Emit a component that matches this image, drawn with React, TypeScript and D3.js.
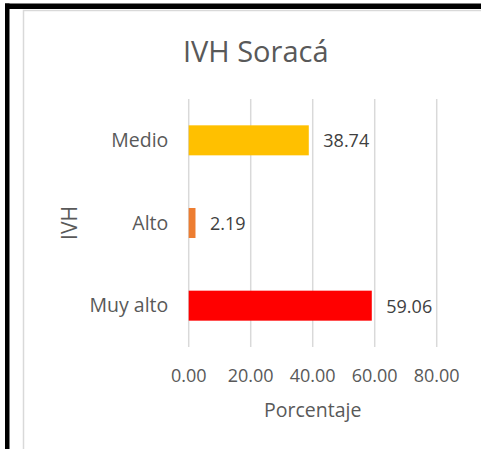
import * as d3 from 'd3';
import { useEffect, useRef } from 'react';

// data
const categories = ['Medio', 'Alto', 'Muy alto'];
const values = [38.74, 2.19, 59.06];
const barColors = ['#FFC000', '#ED7D31', '#FF0000'];
const xTicks = [0, 20, 40, 60, 80];

const W = 481;
const H = 449;

const App = () => {
  const ref = useRef<SVGSVGElement>(null);

  useEffect(() => {
    const svg = d3.select(ref.current);
    svg.selectAll('*').remove();

    const margin = { top: 99, right: 44.3, bottom: 102, left: 188.7 };
    const width = W - margin.left - margin.right;
    const height = H - margin.top - margin.bottom;
    const font = "'Open Sans', sans-serif";
    const textColor = '#595959';

    // black frame on top and left
    svg.append('rect').attr('x', 5).attr('y', 3.5).attr('width', W - 5).attr('height', 5.5).attr('fill', '#000');
    svg.append('rect').attr('x', 5).attr('y', 3.5).attr('width', 4.5).attr('height', H - 3.5).attr('fill', '#000');

    // light chart-area border
    svg
      .append('rect')
      .attr('x', 23.5)
      .attr('y', 10.5)
      .attr('width', W)
      .attr('height', H)
      .attr('fill', '#fff')
      .attr('stroke', '#d9d9d9')
      .attr('stroke-width', 1.5);

    svg
      .append('text')
      .attr('x', 255.7)
      .attr('y', 61.7)
      .attr('text-anchor', 'middle')
      .attr('font-family', font)
      .attr('font-size', 29)
      .attr('fill', textColor)
      .text('IVH Soracá');

    const g = svg.append('g').attr('transform', 'translate(' + margin.left + ',' + margin.top + ')');

    const x = d3.scaleLinear().domain([0, 80]).range([0, width]);
    const y = d3.scaleBand().domain(categories).range([0, height]).paddingInner(0.637).paddingOuter(0.3185);

    // gridlines
    g.append('g')
      .selectAll('line')
      .data(xTicks)
      .enter()
      .append('line')
      .attr('x1', (d) => x(d))
      .attr('x2', (d) => x(d))
      .attr('y1', 0)
      .attr('y2', height)
      .attr('stroke', '#d9d9d9')
      .attr('stroke-width', 1.5);

    // bars
    g.append('g')
      .selectAll('rect')
      .data(categories)
      .enter()
      .append('rect')
      .attr('x', x(0))
      .attr('y', (d) => y(d) as number)
      .attr('width', (d, i) => x(values[i]) - x(0))
      .attr('height', y.bandwidth())
      .attr('fill', (d, i) => barColors[i]);

    // value labels
    g.append('g')
      .selectAll('text')
      .data(categories)
      .enter()
      .append('text')
      .attr('x', (d, i) => x(values[i]) + 14.5)
      .attr('y', (d) => (y(d) as number) + y.bandwidth() / 2 + 7)
      .attr('font-family', font)
      .attr('font-size', 18)
      .attr('fill', '#404040')
      .text((d, i) => values[i].toFixed(2));

    // category labels
    g.append('g')
      .selectAll('text')
      .data(categories)
      .enter()
      .append('text')
      .attr('x', -20.4)
      .attr('y', (d) => (y(d) as number) + y.bandwidth() / 2 + 6.5)
      .attr('text-anchor', 'end')
      .attr('font-family', font)
      .attr('font-size', 19.5)
      .attr('fill', textColor)
      .text((d) => d);

    // x tick labels
    g.append('g')
      .selectAll('text')
      .data(xTicks)
      .enter()
      .append('text')
      .attr('x', (d) => x(d))
      .attr('y', height + 35)
      .attr('text-anchor', 'middle')
      .attr('font-family', font)
      .attr('font-size', 18)
      .attr('fill', textColor)
      .text((d) => d.toFixed(2));

    // axis titles
    g.append('text')
      .attr('x', width / 2)
      .attr('y', height + 70)
      .attr('text-anchor', 'middle')
      .attr('font-family', font)
      .attr('font-size', 19.5)
      .attr('fill', textColor)
      .text('Porcentaje');

    svg
      .append('text')
      .attr('transform', 'translate(76.7,' + (margin.top + height / 2) + ') rotate(-90)')
      .attr('text-anchor', 'middle')
      .attr('font-family', font)
      .attr('font-size', 21)
      .attr('fill', textColor)
      .text('IVH');
  }, []);

  return <svg ref={ref} width={W} height={H} style={{ position: 'absolute', left: 0, top: 0 }}></svg>;
};

export default App;
